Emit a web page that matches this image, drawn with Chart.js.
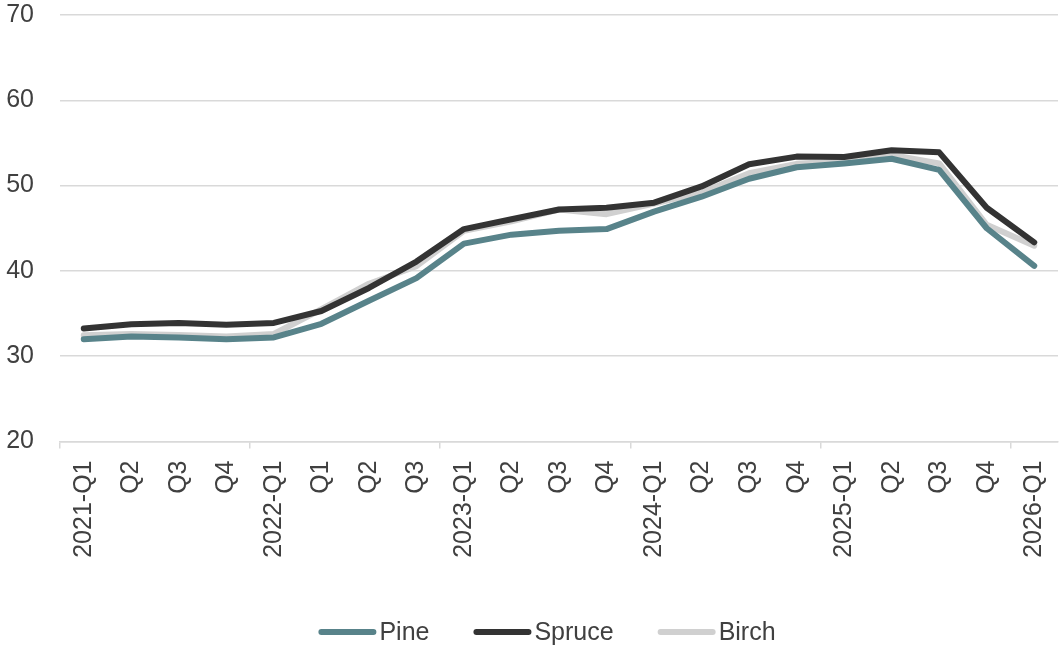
<!DOCTYPE html>
<html>
<head>
<meta charset="utf-8">
<script src="https://cdn.jsdelivr.net/npm/chart.js@4.4.1/dist/chart.umd.min.js"></script>
<style>
  html, body { margin: 0; padding: 0; background: #ffffff; }
  #wrap { width: 1060px; height: 649px; position: relative; }
</style>
</head>
<body>
<div id="wrap"><canvas id="chart"></canvas></div>
<script>
// Quarterly labels along the x axis
const categories = [
  '2021-Q1', 'Q2', 'Q3', 'Q4',
  '2022-Q1', 'Q1', 'Q2', 'Q3',
  '2023-Q1', 'Q2', 'Q3', 'Q4',
  '2024-Q1', 'Q2', 'Q3', 'Q4',
  '2025-Q1', 'Q2', 'Q3', 'Q4',
  '2026-Q1'
];

// Series values per quarter
const pine   = [32.0, 32.3, 32.2, 32.0, 32.2, 33.8, 36.5, 39.15, 43.2, 44.25, 44.7, 44.9, 46.95, 48.7, 50.8, 52.15, 52.6, 53.15, 51.85, 45.0, 40.6];
const spruce = [33.25, 33.75, 33.9, 33.7, 33.9, 35.3, 38.0, 41.1, 44.9, 46.05, 47.2, 47.4, 48.0, 49.9, 52.5, 53.4, 53.35, 54.15, 53.9, 47.4, 43.35];
const birch  = [32.45, 32.6, 32.5, 32.3, 32.6, 35.5, 38.5, 40.55, 44.7, 45.8, 47.2, 46.65, 47.9, 49.2, 51.45, 52.55, 52.85, 53.6, 52.6, 45.4, 42.95];

// Value axis range
const yMin = 20, yMax = 70, yStep = 10;

const FONT = "'Liberation Sans', Arial, sans-serif";
const TEXT = '#404040';
const GRID = '#d9d9d9';
const LINE_W = 6;

function series(label, data, color) {
  return {
    label, data,
    borderColor: color,
    backgroundColor: color,
    borderWidth: LINE_W,
    pointRadius: 0,
    pointHoverRadius: 0,
    tension: 0,
    borderCapStyle: 'round',
    borderJoinStyle: 'round',
    fill: false
  };
}

// Legend row under the axis: a short line sample followed by the series name
const lineLegend = {
  id: 'lineLegend',
  afterDraw(chart) {
    const ctx = chart.ctx;
    const sample = 58, gapText = 3, gapItem = 44, centerX = 547, y = 632;
    ctx.save();
    ctx.font = `25px ${FONT}`;
    const items = chart.data.datasets.map(ds => ({
      label: ds.label, color: ds.borderColor, w: ctx.measureText(ds.label).width
    }));
    const total = items.reduce((s, it) => s + sample + gapText + it.w, 0) + gapItem * (items.length - 1);
    let x = centerX - total / 2;
    items.forEach(it => {
      ctx.strokeStyle = it.color;
      ctx.lineWidth = LINE_W;
      ctx.lineCap = 'round';
      ctx.beginPath();
      ctx.moveTo(x + LINE_W / 2, y);
      ctx.lineTo(x + sample - LINE_W / 2, y);
      ctx.stroke();
      ctx.fillStyle = TEXT;
      ctx.textBaseline = 'middle';
      ctx.textAlign = 'left';
      ctx.fillText(it.label, x + sample + gapText, y + 1);
      x += sample + gapText + it.w + gapItem;
    });
    ctx.restore();
  }
};

new Chart(document.getElementById('chart'), {
  type: 'line',
  data: {
    labels: categories,
    datasets: [
      series('Pine', pine, '#58838a'),
      series('Spruce', spruce, '#333333'),
      series('Birch', birch, '#d0d0d0')
    ]
  },
  plugins: [lineLegend],
  options: {
    responsive: true,
    maintainAspectRatio: false,
    animation: false,
    layout: { padding: { left: 0, right: 2, top: 15, bottom: 72.5 } },
    plugins: {
      tooltip: { enabled: false },
      legend: { display: false }
    },
    scales: {
      x: {
        offset: true,
        grid: {
          offset: true,
          drawOnChartArea: false,
          drawTicks: true,
          tickLength: 7,
          lineWidth: 1.5,
          color: ctx => (ctx.index !== undefined && ctx.index % 4 === 0) ? GRID : 'rgba(0,0,0,0)'
        },
        border: { display: true, color: GRID, width: 1.5 },
        ticks: {
          autoSkip: false,
          maxRotation: 90,
          minRotation: 90,
          padding: 12,
          color: TEXT,
          font: { family: FONT, size: 25 }
        },
        afterFit(scale) {
          scale.height = 135;
          scale.paddingLeft = 0;
          scale.paddingRight = 0;
        }
      },
      y: {
        min: yMin,
        max: yMax,
        ticks: {
          stepSize: yStep,
          padding: 26,
          color: TEXT,
          font: { family: FONT, size: 25 }
        },
        grid: { color: GRID, lineWidth: 1.5, drawTicks: false },
        border: { display: false },
        afterFit(scale) {
          scale.width = 60;
          scale.paddingTop = 0;
          scale.paddingBottom = 0;
        }
      }
    }
  }
});
</script>
</body>
</html>
